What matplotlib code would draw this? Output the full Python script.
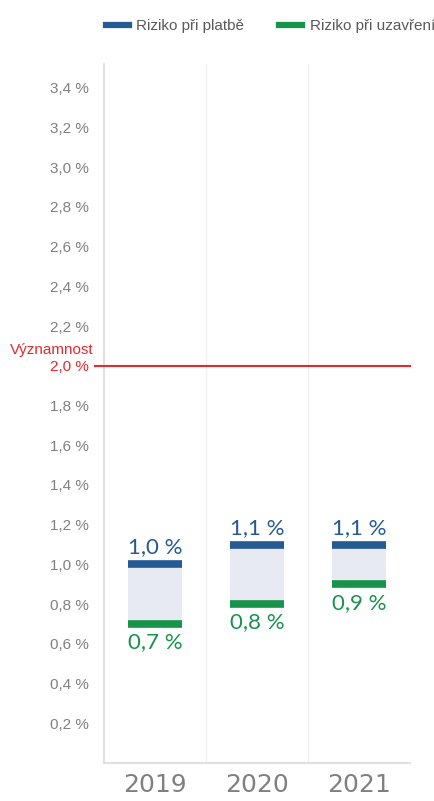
import matplotlib
matplotlib.use('Agg')
import matplotlib.pyplot as plt
from matplotlib.lines import Line2D
import matplotlib.transforms as mtransforms

# data
years = ['2019', '2020', '2021']
riziko_platba = [1.0, 1.1, 1.1]
riziko_uzavreni = [0.7, 0.8, 0.9]
vyznamnost = 2.0
y_ticks = [0.2, 0.4, 0.6, 0.8, 1.0, 1.2, 1.4, 1.6, 1.8, 2.0, 2.2, 2.4, 2.6, 2.8, 3.0, 3.2, 3.4]

blue = '#245b93'
green = '#17934a'
red = '#e8282c'
fill = '#e8eaf3'
grey = '#808080'
narrow = ['Liberation Sans Narrow', 'Liberation Sans', 'DejaVu Sans']

fig = plt.figure(figsize=(4.35, 8.01), dpi=100)
ax = fig.add_axes([104/435, 38/801, 306/435, 699/801])

x = list(range(len(years)))
w = 0.52
heights = [b - g for b, g in zip(riziko_platba, riziko_uzavreni)]
ax.bar(x, heights, bottom=riziko_uzavreni, width=w, color=fill, zorder=2)
ax.hlines(riziko_platba, [i - w/2 for i in x], [i + w/2 for i in x], color=blue, lw=5.5, capstyle='butt', zorder=3)
ax.hlines(riziko_uzavreni, [i - w/2 for i in x], [i + w/2 for i in x], color=green, lw=5.5, capstyle='butt', zorder=3)

for i in x:
    ax.annotate(('%.1f %%' % riziko_platba[i]).replace('.', ','), (i, riziko_platba[i]),
                xytext=(0, 5), textcoords='offset points', ha='center', va='bottom',
                color=blue, fontsize=16, family=['Lato', 'DejaVu Sans'])
    ax.annotate(('%.1f %%' % riziko_uzavreni[i]).replace('.', ','), (i, riziko_uzavreni[i]),
                xytext=(0, -6), textcoords='offset points', ha='center', va='top',
                color=green, fontsize=16, family=['Lato', 'DejaVu Sans'])

# threshold line
trans = mtransforms.blended_transform_factory(ax.transAxes, ax.transData)
ax.plot([-0.03, 1], [vyznamnost, vyznamnost], color=red, lw=1.5, transform=trans, clip_on=False, zorder=4)
ax.text(-0.035, vyznamnost + 0.08, 'Významnost', transform=trans, ha='right', va='center',
        color=red, fontsize=11, family=narrow)

# axes styling
ax.set_xlim(-0.5, len(years) - 0.5)
ax.set_ylim(0, 3.52)
ax.set_xticks(x)
ax.set_xticklabels(years, fontsize=18, color=grey, family=['DejaVu Sans'])
ax.set_yticks(y_ticks)
ax.set_yticklabels([('%.1f %%' % v).replace('.', ',') for v in y_ticks], fontsize=11, color=grey, family=narrow)
for lbl, v in zip(ax.get_yticklabels(), y_ticks):
    if abs(v - vyznamnost) < 1e-9:
        lbl.set_color(red)
ax.tick_params(axis='both', length=0)
ax.tick_params(axis='y', pad=11)
ax.tick_params(axis='x', pad=7)
for b in [0.5, 1.5]:
    ax.axvline(b, color='#f0f0f0', lw=1, zorder=1)
for s in ['top', 'right']:
    ax.spines[s].set_visible(False)
for s in ['left', 'bottom']:
    ax.spines[s].set_color('#e0e0e0')
    ax.spines[s].set_linewidth(1.5)

handles = [Line2D([], [], color=blue, lw=4.5), Line2D([], [], color=green, lw=4.5)]
fig.legend(handles, ['Riziko při platbě', 'Riziko při uzavření'], loc='center left',
           bbox_to_anchor=(92/435, 1 - 26/801), ncol=2, frameon=False, handlelength=1.5,
           handletextpad=0.5, columnspacing=2.3,
           prop={'family': narrow, 'size': 11}, labelcolor='#595959')

fig.savefig('out.png', dpi=100)
